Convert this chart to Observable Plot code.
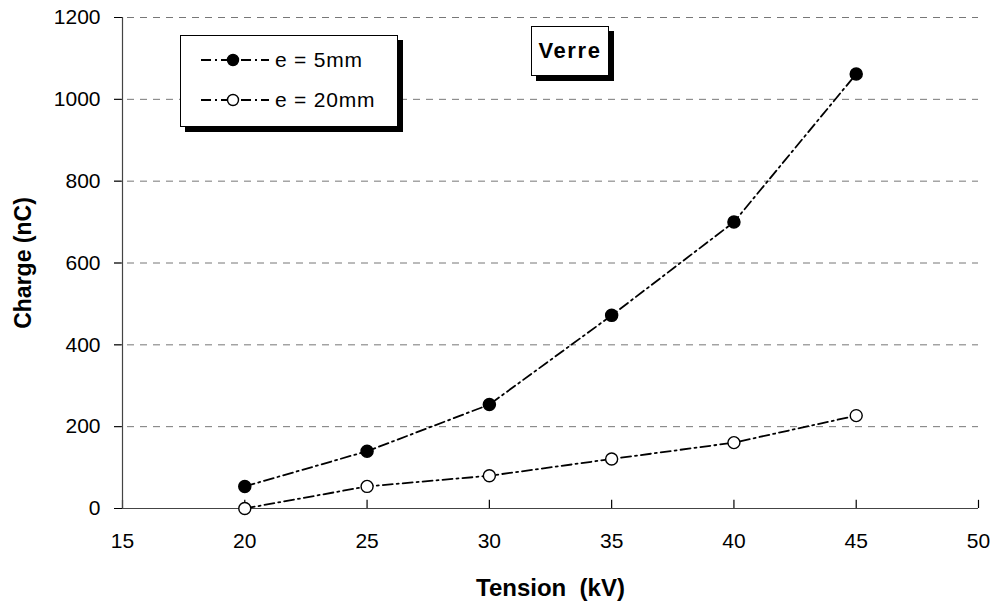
<!DOCTYPE html>
<html><head><meta charset="utf-8">
<script src="https://cdn.jsdelivr.net/npm/d3@7"></script>
<script src="https://cdn.jsdelivr.net/npm/@observablehq/plot@0.6"></script>
<style>
body{margin:0;background:#fff;font-family:"Liberation Sans",Arial,sans-serif;}
#wrap{position:relative;width:994px;height:606px;}
.box{position:absolute;background:#fff;border:1px solid #000;box-shadow:5px 5px 0 #000;box-sizing:border-box;}
.leg{display:flex;align-items:center;font-size:21px;letter-spacing:0.8px;height:40px;}
</style></head><body>
<div id="wrap"></div>
<script>
const tension = [20, 25, 30, 35, 40, 45];
const e5 = [54, 140, 254, 472, 700, 1062];
const e20 = [0, 54, 80, 121, 161, 227];
const seriesNames = ["e = 5mm", "e = 20mm"];
const xTicks = [15, 20, 25, 30, 35, 40, 45, 50];
const yTicks = [0, 200, 400, 600, 800, 1000, 1200];

const d5 = tension.map((t, i) => ({x: t, y: e5[i]}));
const d20 = tension.map((t, i) => ({x: t, y: e20[i]}));
const dash = "10,4,2,4";

const chart = Plot.plot({
  width: 994, height: 606,
  marginLeft: 122, marginRight: 16, marginTop: 17, marginBottom: 98,
  style: {fontFamily: "'Liberation Sans', Arial, sans-serif", fontSize: "21px", color: "#000", background: "#fff"},
  x: {domain: [15, 50]},
  y: {domain: [0, 1200]},
  marks: [
    Plot.ruleY(yTicks.filter(v => v > 0), {x1: 15, x2: 50, insetLeft: -8, stroke: "#777", strokeDasharray: "7,6", strokeWidth: 1}),
    Plot.axisX({ticks: xTicks, tickSize: 0, tickPadding: 25, fontSize: 21, label: null, tickFormat: d => String(d)}),
    Plot.axisY({ticks: yTicks, tickSize: 8, tickPadding: 14, fontSize: 21, label: null, stroke: "#000", tickFormat: d => String(d)}),
    Plot.ruleX(xTicks, {y1: 0, y2: 20, stroke: "#000", strokeWidth: 1.2}),
    Plot.ruleX([15], {stroke: "#444", strokeWidth: 1.2}),
    Plot.ruleY([0], {stroke: "#444", strokeWidth: 1.2}),
    Plot.line(d5, {x: "x", y: "y", stroke: "#000", strokeWidth: 1.8, strokeDasharray: dash}),
    Plot.line(d20, {x: "x", y: "y", stroke: "#000", strokeWidth: 1.8, strokeDasharray: dash}),
    Plot.dot(d5, {x: "x", y: "y", r: 6, fill: "#000", stroke: "#000"}),
    Plot.dot(d20, {x: "x", y: "y", r: 6, fill: "#fff", stroke: "#000", strokeWidth: 1.4}),
    Plot.text(["Tension  (kV)"], {frameAnchor: "bottom", dy: 87, fontWeight: "bold", fontSize: 24, letterSpacing: 0.8}),
    Plot.text(["Charge (nC)"], {frameAnchor: "left", textAnchor: "middle", lineAnchor: "middle", dx: -99, rotate: -90, fontWeight: "bold", fontSize: 23, letterSpacing: 0.8})
  ]
});
const wrap = document.getElementById("wrap");
wrap.appendChild(chart);

function legItem(name, filled) {
  return `<div class="leg"><svg width="72" height="20" style="margin-right:4px"><line x1="2" y1="10" x2="70" y2="10" stroke="#000" stroke-width="1.8" stroke-dasharray="${dash}"/><circle cx="34" cy="10" r="5.5" fill="${filled ? "#000" : "#fff"}" stroke="#000" stroke-width="1.4"/></svg>${name}</div>`;
}
const leg = document.createElement("div");
leg.className = "box";
leg.style.cssText = "left:180px;top:35px;width:218px;height:92px;padding:4px 0 0 18px;";
leg.innerHTML = legItem(seriesNames[0], true) + legItem(seriesNames[1], false);
wrap.appendChild(leg);

const verre = document.createElement("div");
verre.className = "box";
verre.style.cssText = "left:531px;top:26px;width:78px;height:50px;font-weight:bold;font-size:22px;letter-spacing:1.6px;display:flex;align-items:center;justify-content:center;";
verre.textContent = "Verre";
wrap.appendChild(verre);
</script>
</body></html>
